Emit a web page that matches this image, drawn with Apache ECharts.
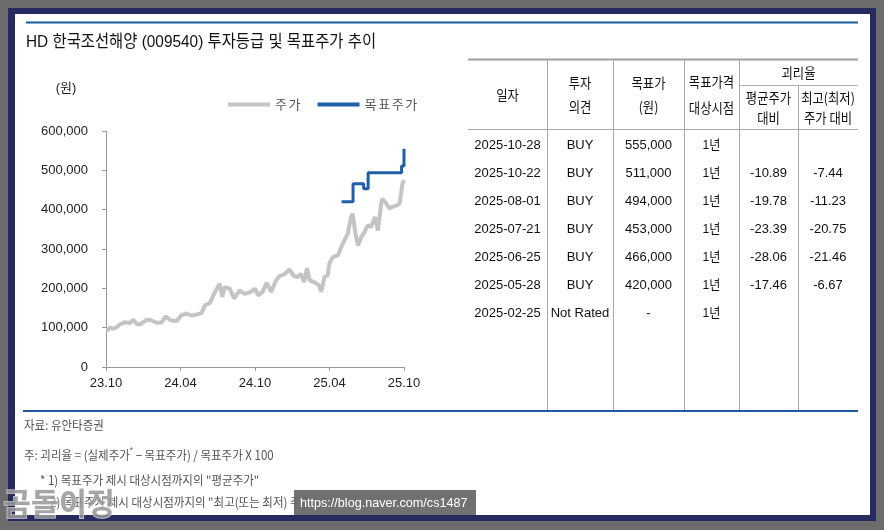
<!DOCTYPE html>
<html><head><meta charset="utf-8">
<script src="https://cdn.jsdelivr.net/npm/echarts@6/dist/echarts.min.js"></script>
<style>html,body{margin:0;padding:0;background:#6d6d6d}#c{width:884px;height:530px}</style>
</head><body><div id="c"></div><script>
// ---- data ----
const axisStart = '2023-10-28';
const axisEnd = '2025-10-28';
const xTickLabels = ['23.10', '24.04', '24.10', '25.04', '25.10'];
const priceDates = ['2023-10-30','2023-11-07','2023-11-13','2023-11-20','2023-12-01','2023-12-13','2023-12-26','2024-01-03','2024-01-11','2024-01-19','2024-02-05','2024-02-16','2024-03-01','2024-03-13','2024-03-22','2024-04-03','2024-04-19','2024-04-29','2024-05-13','2024-05-24','2024-06-05','2024-06-18','2024-06-27','2024-07-09','2024-07-19','2024-08-02','2024-08-08','2024-08-14','2024-08-27','2024-09-06','2024-09-20','2024-10-02','2024-10-15','2024-10-28','2024-11-04','2024-11-15','2024-11-25','2024-12-06','2024-12-18','2024-12-27','2025-01-08','2025-01-20','2025-01-31','2025-02-10','2025-02-17','2025-02-25','2025-03-04','2025-03-11','2025-03-21','2025-04-02','2025-04-08','2025-04-16','2025-04-24','2025-04-28','2025-05-07','2025-05-19','2025-05-27','2025-06-04','2025-06-12','2025-06-20','2025-06-24','2025-07-01','2025-07-07','2025-07-15','2025-07-23','2025-07-31','2025-08-08','2025-08-18','2025-08-25','2025-09-02','2025-09-05','2025-09-15','2025-09-22','2025-09-30','2025-10-10','2025-10-17','2025-10-21','2025-10-24','2025-10-28'];
const prices = [92000,101000,97000,99000,108000,114000,112000,120000,110000,108000,120000,119000,112000,114000,129000,119000,117000,131000,136000,131000,133000,137000,157000,163000,186000,212000,178000,203000,199000,174000,195000,186000,190000,199000,182000,191000,214000,191000,220000,231000,236000,248000,231000,229000,237000,216000,251000,220000,216000,208000,191000,229000,233000,264000,280000,284000,305000,322000,339000,381000,390000,339000,309000,330000,343000,360000,356000,381000,347000,415000,428000,415000,403000,407000,411000,415000,441000,466000,475000];
const tableDates = ['2025-10-28','2025-10-22','2025-08-01','2025-07-21','2025-06-25','2025-05-28','2025-02-25'];
const tableOpinion = ['BUY','BUY','BUY','BUY','BUY','BUY','Not Rated'];
const tableTarget = [555000,511000,494000,453000,466000,420000,null];
const tableHorizon = ['1년','1년','1년','1년','1년','1년','1년'];
const tableAvgGap = ['','-10.89','-19.78','-23.39','-28.06','-17.46',''];
const tableMaxGap = ['','-7.44','-11.23','-20.75','-21.46','-6.67',''];

// ---- helpers ----
const DAY = 86400000;
const t0 = Date.parse(axisStart);
const span = (Date.parse(axisEnd) - t0) / DAY;
const step = span / (xTickLabels.length - 1);
const dayOf = d => (Date.parse(d) - t0) / DAY;
const fmt = n => String(n).replace(/\B(?=(\d{3})+(?!\d))/g, ',');
const LAT = "'Liberation Sans', 'Noto Sans CJK KR', sans-serif";
const KR = "'Noto Sans CJK KR', sans-serif";

const priceData = priceDates.map((d, i) => [dayOf(d), prices[i]]);
const targetData = [];
for (let i = tableDates.length - 1; i >= 0; i--) {
  if (tableTarget[i] != null) targetData.push([dayOf(tableDates[i]), tableTarget[i]]);
}

function T(text, x, y, o) {
  o = o || {};
  return { type: 'text', x: x, y: y, scaleX: o.sx || 1, z: o.z || 50,
    style: { text: text, fontSize: o.fs || 13, fontFamily: o.ff || LAT, fill: o.fill || '#111',
      align: o.align || 'center', verticalAlign: 'middle', fontWeight: o.fw || 'normal' } };
}
function L(x1, y1, x2, y2, c, w) {
  return { type: 'line', z: 40, shape: { x1: x1, y1: y1, x2: x2, y2: y2 }, style: { stroke: c, lineWidth: w || 1 } };
}

const g = [];
// frame
g.push({ type: 'rect', z: -20, shape: { x: 0, y: 0, width: 884, height: 530 }, style: { fill: '#6d6d6d' } });
g.push({ type: 'rect', z: -19, shape: { x: 8, y: 8, width: 868, height: 513 }, style: { fill: '#272a5e' } });
g.push({ type: 'rect', z: -18, shape: { x: 15, y: 14, width: 855, height: 501 }, style: { fill: '#ffffff' } });
// top rule and title
g.push(L(26, 22.5, 858, 22.5, '#1c5a9c', 2));
g.push(T('HD 한국조선해양 (009540) 투자등급 및 목표주가 추이', 26, 42, { fs: 17, align: 'left', sx: 0.905 }));
g.push(T('(원)', 66, 88, { fs: 13, fill: '#222' }));

// table
const colX = [468, 547, 613, 684, 739, 798, 858];
const cx = i => (colX[i] + colX[i + 1]) / 2;
g.push(L(468, 59.5, 858, 59.5, '#a0a0a0', 2));
g.push(L(468, 129.5, 858, 129.5, '#a8a8a8', 1));
g.push(L(739, 85.5, 858, 85.5, '#b0b0b0', 1));
[1, 2, 3, 4].forEach(i => g.push(L(colX[i] + 0.5, 60, colX[i] + 0.5, 410, '#a8a8a8', 1)));
g.push(L(colX[5] + 0.5, 86, colX[5] + 0.5, 410, '#a8a8a8', 1));
const hk = { fs: 14, ff: KR, sx: 0.88 };
g.push(T('일자', cx(0), 95, hk));
g.push(T('투자', cx(1), 83, hk)); g.push(T('의견', cx(1), 107, hk));
g.push(T('목표가', cx(2), 83, hk)); g.push(T('(원)', cx(2), 107, hk));
g.push(T('목표가격', cx(3), 82, hk)); g.push(T('대상시점', cx(3), 108, hk));
g.push(T('괴리율', (colX[4] + colX[6]) / 2, 73, hk));
g.push(T('평균주가', cx(4), 98, hk)); g.push(T('대비', cx(4), 118, hk));
g.push(T('최고(최저)', cx(5), 98, hk)); g.push(T('주가 대비', cx(5), 118, hk));
tableDates.forEach((d, r) => {
  const y = 145 + r * 28;
  g.push(T(d, cx(0), y));
  g.push(T(tableOpinion[r], cx(1), y));
  g.push(T(tableTarget[r] == null ? '-' : fmt(tableTarget[r]), cx(2), y));
  g.push(T(tableHorizon[r], cx(3), y, { sx: 0.93 }));
  g.push(T(tableAvgGap[r], cx(4), y));
  g.push(T(tableMaxGap[r], cx(5), y));
});

// bottom rule and notes
g.push(L(23, 411, 858, 411, '#1c5a9c', 2));
const nk = { fs: 12.5, ff: KR, fill: '#555', align: 'left', sx: 0.92 };
g.push(T('자료: 유안타증권', 24, 425, nk));
g.push({ type: 'text', x: 24, y: 455, scaleX: 0.92, z: 50, style: { text: '주: 괴리율 = (실제주가{s|*} − 목표주가) / 목표주가 X 100', fontSize: 12.5, fontFamily: KR, fill: '#555', align: 'left', verticalAlign: 'middle', rich: { s: { fontSize: 9, verticalAlign: 'top', padding: [0, 0, 8, 0], fill: '#555' } } } });
g.push(T('* 1) 목표주가 제시 대상시점까지의 "평균주가"', 40, 480, nk));
g.push(T('2) 목표주가 제시 대상시점까지의 "최고(또는 최저) 주가"', 50, 502, nk));
// watermarks
g.push({ type: 'text', x: 3, y: 503, scaleX: 0.98, z: 60, style: { text: '곰돌이정', fontSize: 31, fontWeight: 'bold', fontFamily: KR, fill: 'rgba(150,150,150,0.85)', stroke: 'rgba(235,235,235,0.9)', lineWidth: 1, align: 'left', verticalAlign: 'middle' } });
g.push({ type: 'rect', z: 60, shape: { x: 294, y: 490, width: 182, height: 25 }, style: { fill: 'rgba(105,105,105,0.95)' } });
g.push(T('https://blog.naver.com/cs1487', 300, 503, { fs: 13, fill: '#ffffff', align: 'left', sx: 0.97, z: 70 }));

const chart = echarts.init(document.getElementById('c'), null, { renderer: 'canvas' });
chart.setOption({
  backgroundColor: '#6d6d6d',
  animation: false,
  graphic: { elements: g },
  legend: {
    left: 228, top: 98, padding: 0, itemWidth: 42, itemHeight: 4, itemGap: 17, icon: 'rect',
    textStyle: { fontSize: 13, color: '#555', fontFamily: KR, padding: [0, 0, 0, 0] },
    formatter: n => n.split('').join('\u200A\u200A'),
    data: ['주가', '목표주가']
  },
  grid: { left: 106, top: 131, width: 298, height: 236, containLabel: false },
  xAxis: {
    type: 'value', min: 0, max: span, interval: step,
    axisLine: { lineStyle: { color: '#999' } },
    axisTick: { show: true, length: 4, lineStyle: { color: '#999' } },
    splitLine: { show: false },
    axisLabel: { fontSize: 13, color: '#222', fontFamily: LAT, margin: 10,
      formatter: v => xTickLabels[Math.round(v / step)] }
  },
  yAxis: {
    type: 'value', min: 0, max: 600000, interval: 100000,
    axisLine: { show: true, lineStyle: { color: '#999' } },
    axisTick: { show: true, length: 4, lineStyle: { color: '#999' } },
    splitLine: { show: false },
    axisLabel: { fontSize: 13, color: '#222', fontFamily: LAT, margin: 18, formatter: v => fmt(v) }
  },
  series: [
    { name: '주가', type: 'line', data: priceData, showSymbol: false, symbol: 'none',
      lineStyle: { color: '#c4c4c4', width: 4 }, itemStyle: { color: '#c4c4c4' }, z: 3 },
    { name: '목표주가', type: 'line', step: 'end', data: targetData, showSymbol: false, symbol: 'none',
      lineStyle: { color: '#1f5fa8', width: 3 }, itemStyle: { color: '#1f5fa8' }, z: 4 }
  ]
});
</script></body></html>
